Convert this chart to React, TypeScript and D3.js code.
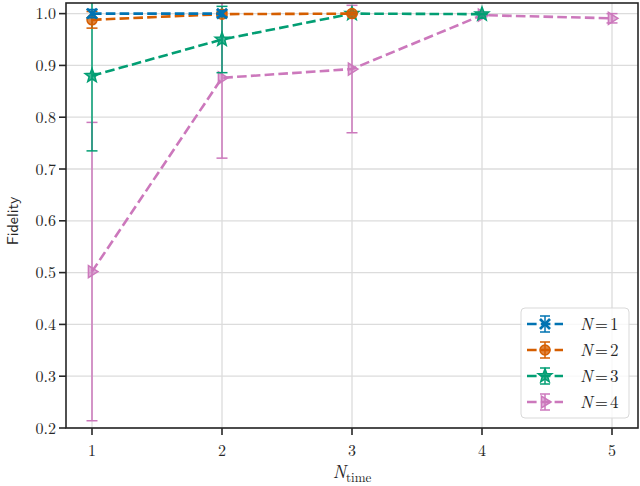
import React from "react";
import * as d3 from "d3";

const xTicks = [1, 2, 3, 4, 5];
const yTicks = [0.2, 0.3, 0.4, 0.5, 0.6, 0.7, 0.8, 0.9, 1.0];

const n1X = [1, 2];
const n1Y = [1.0, 1.0];
const n1Err = [0.008, 0.006];

const n2X = [1, 2, 3];
const n2Y = [0.988, 0.999, 1.0];
const n2Err = [0.016, 0.004, 0.002];

const n3X = [1, 2, 3, 4];
const n3Y = [0.88, 0.95, 1.0, 0.999];
const n3Err = [0.145, 0.064, 0.001, 0.001];

const n4X = [1, 2, 3, 4, 5];
const n4Y = [0.502, 0.876, 0.893, 0.997, 0.991];
const n4Err = [0.288, 0.155, 0.123, 0.003, 0.009];

const labels = ["1", "2", "3", "4"];
const colors = ["#0173B2", "#D55E00", "#029E73", "#CC78BC"];
const markers = ["x", "o", "star", "tri"];

const W = 640;
const H = 486;
const M = { left: 66, right: 638, top: 3, bottom: 428 };

function Marker({ type, cx, cy, color }: { type: string; cx: number; cy: number; color: string }) {
  if (type === "x") {
    const s = 5;
    return (
      <g stroke={color} strokeWidth={2.6} strokeLinecap="butt">
        <line x1={cx - s} y1={cy - s} x2={cx + s} y2={cy + s} />
        <line x1={cx - s} y1={cy + s} x2={cx + s} y2={cy - s} />
      </g>
    );
  }
  if (type === "o") {
    return <circle cx={cx} cy={cy} r={5} fill={color} fillOpacity={0.75} stroke={color} strokeWidth={1.5} />;
  }
  if (type === "star") {
    const pts: string[] = [];
    const R = 7.2, r = 3.0;
    for (let i = 0; i < 10; i++) {
      const a = -Math.PI / 2 + (i * Math.PI) / 5;
      const rr = i % 2 === 0 ? R : r;
      pts.push(`${cx + rr * Math.cos(a)},${cy + rr * Math.sin(a)}`);
    }
    return <polygon points={pts.join(" ")} fill={color} fillOpacity={0.75} stroke={color} strokeWidth={1.5} strokeLinejoin="miter" />;
  }
  const s = 6;
  return (
    <polygon
      points={`${cx + s},${cy} ${cx - s * 0.6},${cy - s} ${cx - s * 0.6},${cy + s}`}
      fill={color}
      fillOpacity={0.6}
      stroke={color}
      strokeWidth={1.5}
    />
  );
}

export default function App() {
  const x = d3.scaleLinear().domain([0.8, 5.2]).range([M.left, M.right]);
  const y = d3.scaleLinear().domain([0.2, 1.0205]).range([M.bottom, M.top]);

  const series = [
    { xs: n1X, ys: n1Y, es: n1Err },
    { xs: n2X, ys: n2Y, es: n2Err },
    { xs: n3X, ys: n3Y, es: n3Err },
    { xs: n4X, ys: n4Y, es: n4Err },
  ];

  const line = d3
    .line<[number, number]>()
    .x((d) => x(d[0]))
    .y((d) => y(d[1]));

  const dark = "#262626";
  const serif = "'Latin Modern Roman', 'CMU Serif', 'Liberation Serif', serif";
  const order = [3, 2, 1, 0];

  const legX = 521, legY = 308, legW = 108, legH = 110;
  const rowY = (i: number) => 324 + i * 26;

  return (
    <svg width={W} height={H} style={{ position: "absolute", left: 0, top: 0, background: "#fff" }}>
      <defs>
        <clipPath id="plotclip">
          <rect x={M.left} y={M.top} width={M.right - M.left} height={M.bottom - M.top} />
        </clipPath>
      </defs>
      <rect x={0} y={0} width={W} height={H} fill="#fff" />
      {/* grid */}
      <g stroke="#dcdcdc" strokeWidth={1.3}>
        {xTicks.map((t) => (
          <line key={"gx" + t} x1={x(t)} x2={x(t)} y1={M.top} y2={M.bottom} />
        ))}
        {yTicks.map((t) => (
          <line key={"gy" + t} x1={M.left} x2={M.right} y1={y(t)} y2={y(t)} />
        ))}
      </g>
      {/* series */}
      <g clipPath="url(#plotclip)">
        {order.map((si) => {
          const s = series[si];
          const c = colors[si];
          const pts = s.xs.map((v, i) => [v, s.ys[i]] as [number, number]);
          return (
            <g key={"s" + si}>
              <g stroke={c} strokeWidth={1.5}>
                {s.xs.map((v, i) => {
                  const px = x(v);
                  const y0 = y(s.ys[i] - s.es[i]);
                  const y1 = y(s.ys[i] + s.es[i]);
                  return (
                    <g key={i}>
                      <line x1={px} x2={px} y1={y0} y2={y1} />
                      <line x1={px - 5.5} x2={px + 5.5} y1={y0} y2={y0} />
                      <line x1={px - 5.5} x2={px + 5.5} y1={y1} y2={y1} />
                    </g>
                  );
                })}
              </g>
              <path d={line(pts) || ""} fill="none" stroke={c} strokeWidth={2.6} strokeDasharray="9.6 4.2" />
              {s.xs.map((v, i) => (
                <Marker key={"m" + i} type={markers[si]} cx={x(v)} cy={y(s.ys[i])} color={c} />
              ))}
            </g>
          );
        })}
      </g>
      {/* frame */}
      <rect
        x={M.left}
        y={M.top}
        width={M.right - M.left}
        height={M.bottom - M.top}
        fill="none"
        stroke={dark}
        strokeWidth={1.6}
      />
      {/* y ticks */}
      <g>
        {yTicks.map((t) => (
          <g key={"yt" + t}>
            <line x1={M.left - 7} x2={M.left} y1={y(t)} y2={y(t)} stroke={dark} strokeWidth={1.6} />
            <text
              x={M.left - 10}
              y={y(t)}
              dy="0.35em"
              textAnchor="end"
              fontFamily={serif}
              fontSize={16}
              fill={dark}
            >
              {t.toFixed(1)}
            </text>
          </g>
        ))}
      </g>
      {/* x ticks */}
      <g>
        {xTicks.map((t) => (
          <g key={"xt" + t}>
            <line x1={x(t)} x2={x(t)} y1={M.bottom} y2={M.bottom + 7} stroke={dark} strokeWidth={1.6} />
            <text x={x(t)} y={M.bottom + 28} textAnchor="middle" fontFamily={serif} fontSize={16} fill={dark}>
              {t}
            </text>
          </g>
        ))}
      </g>
      {/* axis labels */}
      <text
        transform={`translate(18, 221) rotate(-90)`}
        textAnchor="middle"
        fontFamily="'Latin Modern Sans', 'DejaVu Sans', sans-serif"
        fontSize={16}
        fill={dark}
      >
        Fidelity
      </text>
      <text x={(M.left + M.right) / 2} y={478} textAnchor="middle" fontFamily={serif} fill={dark}>
        <tspan fontStyle="italic" fontSize={18}>N</tspan>
        <tspan fontSize={13} dy={4}>time</tspan>
      </text>
      {/* legend */}
      <rect x={legX} y={legY} width={legW} height={legH} rx={4} fill="#fff" fillOpacity={0.8} stroke="#d9d9d9" strokeWidth={1} />
      {labels.map((lab, i) => {
        const cy = rowY(i);
        const c = colors[i];
        return (
          <g key={"lg" + i}>
            <line x1={527} x2={563} y1={cy} y2={cy} stroke={c} strokeWidth={2.6} strokeDasharray="9.6 4.2" strokeDashoffset={0} />
            <g stroke={c} strokeWidth={1.5}>
              <line x1={545} x2={545} y1={cy - 8} y2={cy + 8} />
              <line x1={540} x2={550} y1={cy - 8} y2={cy - 8} />
              <line x1={540} x2={550} y1={cy + 8} y2={cy + 8} />
            </g>
            <Marker type={markers[i]} cx={545} cy={cy} color={c} />
            <text x={580} y={cy} dy="0.35em" fontFamily={serif} fontSize={17} fill={dark}>
              <tspan fontStyle="italic">N</tspan>
              <tspan dx={2}>=</tspan>
              <tspan dx={2}>{lab}</tspan>
            </text>
          </g>
        );
      })}
    </svg>
  );
}
